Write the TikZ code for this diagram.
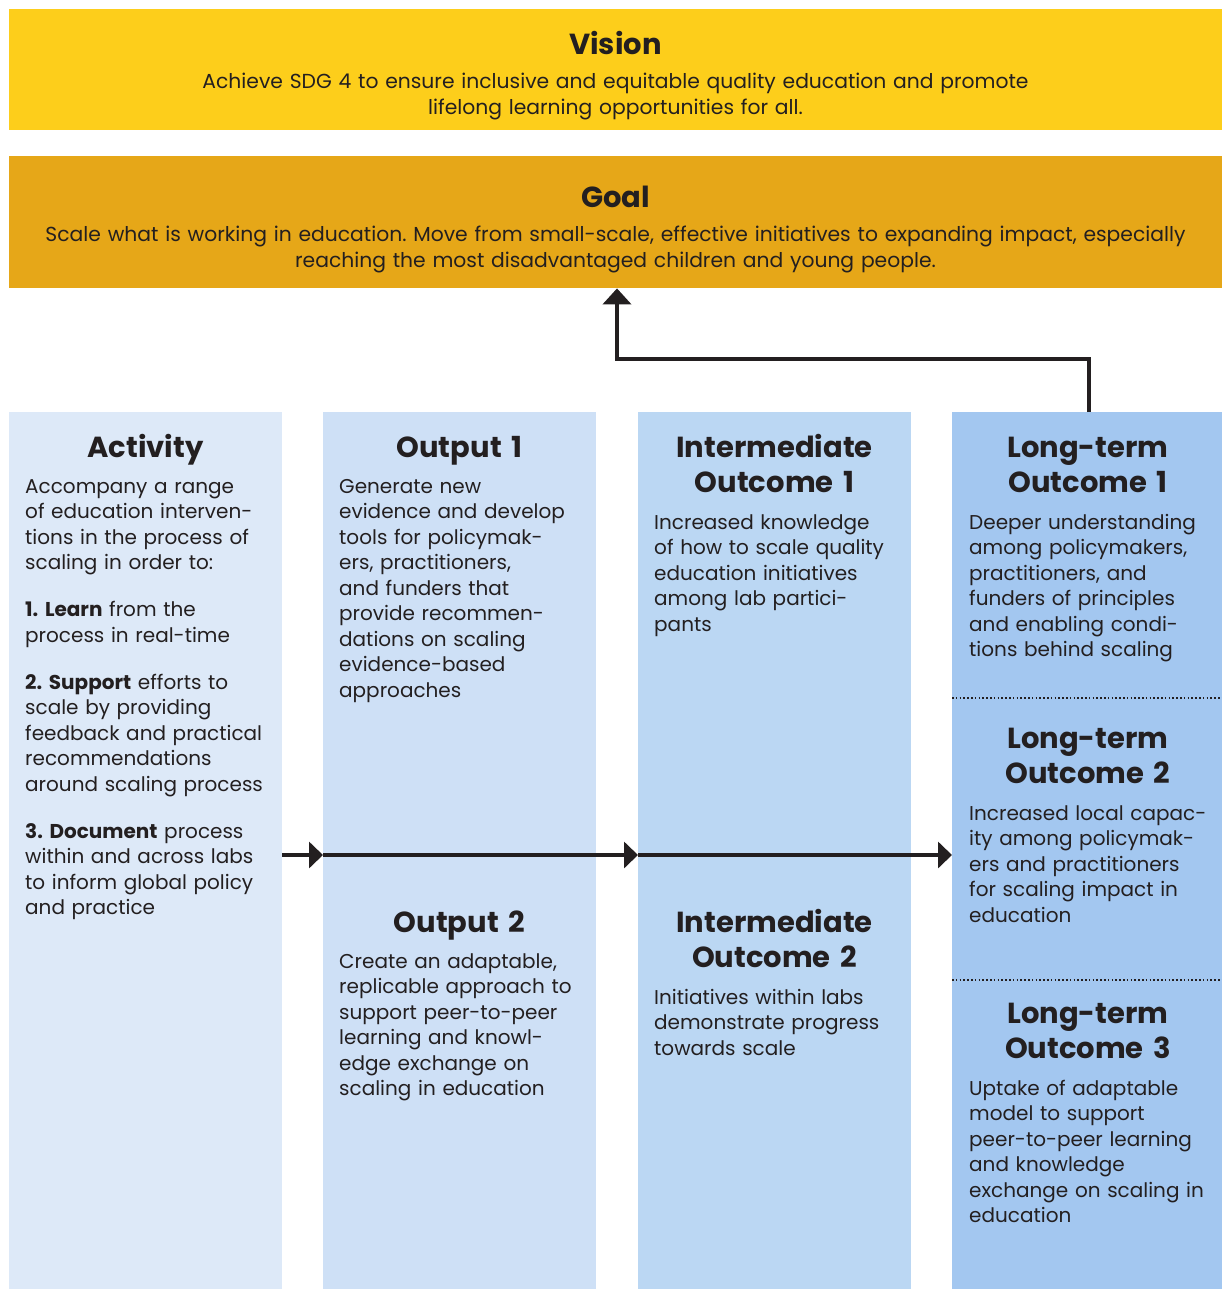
\documentclass[tikz,border=0pt]{standalone}
\usepackage{fontspec}
\setmainfont{Poppins}
\usetikzlibrary{arrows.meta}
\frenchspacing
\definecolor{visc}{RGB}{253,206,27}
\definecolor{goalc}{RGB}{230,167,24}
\definecolor{actc}{RGB}{221,233,248}
\definecolor{outc}{RGB}{206,224,246}
\definecolor{intc}{RGB}{187,215,243}
\definecolor{ltc}{RGB}{163,199,240}
\definecolor{ink}{RGB}{35,31,32}
\tikzset{
  band/.style={draw=none, inner sep=0pt, anchor=north west, minimum width=1213pt},
  colbox/.style={draw=none, inner sep=0pt, anchor=north west, minimum width=273pt, minimum height=877pt},
  ttl/.style={inner sep=0pt, anchor=base, text width=280pt, align=center, text=ink,
    font=\fontsize{29}{35}\selectfont\bfseries\frenchspacing},
  bodytxt/.style={inner sep=0pt, anchor=base west, text width=280pt, align=left, text=ink,
    font=\fontsize{20}{25.5}\selectfont\frenchspacing},
  toptxt/.style={inner sep=0pt, anchor=base, align=center, text=ink,
    font=\fontsize{20.3}{25.5}\selectfont\frenchspacing},
  conn/.style={draw=ink, line width=4pt},
  hconn/.style={conn, -{Triangle[length=14pt,width=26pt]}},
  vconn/.style={conn, -{Triangle[length=16pt,width=28pt]}},
  dotline/.style={draw=ink, line width=1.6pt, dash pattern=on 1.6pt off 2.2pt},
}
\newcommand{\pgap}{\\[21.5pt]}
\begin{document}
\begin{tikzpicture}[x=1pt,y=-1pt]
\useasboundingbox (0,0) rectangle (1222,1289);
% bands
\node[band, fill=visc, minimum height=121pt] (vision) at (9,9) {};
\node[band, fill=goalc, minimum height=132pt] (goal) at (9,156) {};
\node[ttl] (visiont) at (615.5,55) {Vision};
\node[toptxt, text width=1000pt] (visionb) at (615.5,89) {Achieve SDG 4 to ensure inclusive and equitable quality education and promote\\lifelong learning opportunities for all.};
\node[ttl] (goalt) at (615.5,208) {Goal};
\node[toptxt, text width=1200pt] (goalb) at (615.5,241.5) {Scale what is working in education. Move from small-scale, effective initiatives to expanding impact, especially\\reaching the most disadvantaged children and young people.};
% columns
\node[colbox, fill=actc] (act) at (9,412) {};
\node[colbox, fill=outc] (out) at (323,412) {};
\node[colbox, fill=intc] (int) at (638,412) {};
\node[colbox, fill=ltc, minimum width=270pt] (lt) at (952,412) {};
% activity
\node[ttl] (actt) at (145.5,457) {Activity};
\node[bodytxt] (actb) at (25,493) {Accompany a range\\of education interven-\\tions in the process of\\scaling in order to:\pgap
\textbf{1. Learn} from the\\process in real-time\pgap
\textbf{2. Support} efforts to\\scale by providing\\feedback and practical\\recommendations\\around scaling process\pgap
\textbf{3. Document} process\\within and across labs\\to inform global policy\\and practice};
% outputs
\node[ttl] (o1t) at (459.5,457) {Output 1};
\node[bodytxt] (o1b) at (339,493) {Generate new\\evidence and develop\\tools for policymak-\\ers, practitioners,\\and funders that\\provide recommen-\\dations on scaling\\evidence-based\\approaches};
\node[ttl] (o2t) at (459.5,932) {Output 2};
\node[bodytxt] (o2b) at (339,968) {Create an adaptable,\\replicable approach to\\support peer-to-peer\\learning and knowl-\\edge exchange on\\scaling in education};
% intermediate
\node[ttl] (i1t) at (774.5,457) {Intermediate\\Outcome 1};
\node[bodytxt] (i1b) at (654,529) {Increased knowledge\\of how to scale quality\\education initiatives\\among lab partici-\\pants};
\node[ttl] (i2t) at (774.5,932) {Intermediate\\Outcome 2};
\node[bodytxt] (i2b) at (654,1004) {Initiatives within labs\\demonstrate progress\\towards scale};
% long-term
\node[ttl] (l1t) at (1088,457) {Long-term\\Outcome 1};
\node[bodytxt] (l1b) at (969,529) {Deeper understanding\\among policymakers,\\practitioners, and\\funders of principles\\and enabling condi-\\tions behind scaling};
\coordinate (d1) at (952,698);
\draw[dotline] (d1) -- (d1 -| lt.east);
\node[ttl] (l2t) at (1088,748) {Long-term\\Outcome 2};
\node[bodytxt] (l2b) at (969,820) {Increased local capac-\\ity among policymak-\\ers and practitioners\\for scaling impact in\\education};
\coordinate (d2) at (952,980);
\draw[dotline] (d2) -- (d2 -| lt.east);
\node[ttl] (l3t) at (1088,1023) {Long-term\\Outcome 3};
\node[bodytxt] (l3b) at (969,1095) {Uptake of adaptable\\model to support\\peer-to-peer learning\\and knowledge\\exchange on scaling in\\education};
% connectors
\coordinate (ay) at (0,855);
\draw[hconn] (act.east |- ay) -- (out.west |- ay);
\draw[hconn] (out.west |- ay) -- (int.west |- ay);
\draw[hconn] (int.west |- ay) -- (lt.west |- ay);
\coordinate (up) at (1089,412);
\coordinate (bend) at (617,359);
\draw[vconn] (up) |- (bend) -- (goal.south -| bend);
\end{tikzpicture}
\end{document}
